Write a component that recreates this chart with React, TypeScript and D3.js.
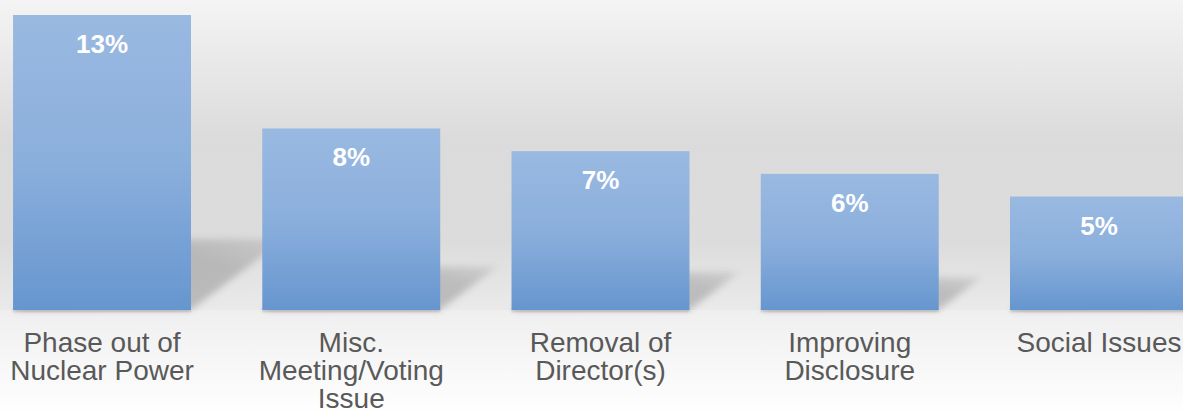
import React from 'react';
import * as d3 from 'd3';

const categoryLines: string[][] = [
  ['Phase out of', 'Nuclear Power'],
  ['Misc.', 'Meeting/Voting', 'Issue'],
  ['Removal of', 'Director(s)'],
  ['Improving', 'Disclosure'],
  ['Social Issues'],
];
const values: number[] = [13, 8, 7, 6, 5];
const valueLabels: string[] = ['13%', '8%', '7%', '6%', '5%'];

const W = 1183;
const H = 416;
const FLOOR = 310;

export default function App() {
  const x = d3
    .scaleBand<number>()
    .domain(values.map((_, i) => i))
    .range([-22.6, 1223.6])
    .paddingInner(0.286)
    .paddingOuter(0.143);
  const y = d3.scaleLinear().domain([0, 13]).range([FLOOR, 15]);
  const bw = x.bandwidth();

  return (
    <svg
      width={W}
      height={H}
      style={{ position: 'fixed', left: 0, top: 0, fontFamily: 'Arial, "Liberation Sans", sans-serif' }}
    >
      <defs>
        <linearGradient id="wall" x1="0" y1="0" x2="0" y2="1">
          <stop offset="0" stopColor="#f4f4f4" />
          <stop offset="0.45" stopColor="#dbdbdb" />
          <stop offset="0.78" stopColor="#dcdcdc" />
          <stop offset="1" stopColor="#eaeaea" />
        </linearGradient>
        <linearGradient id="floor" x1="0" y1="0" x2="0" y2="1">
          <stop offset="0" stopColor="#efefef" />
          <stop offset="1" stopColor="#ffffff" />
        </linearGradient>
        <linearGradient id="bar" x1="0" y1="0" x2="0" y2="1">
          <stop offset="0" stopColor="#99b9e1" />
          <stop offset="0.5" stopColor="#8bafdc" />
          <stop offset="1" stopColor="#6696cf" />
        </linearGradient>
        <linearGradient id="shade" x1="0" y1="1" x2="1" y2="0">
          <stop offset="0" stopColor="#000" stopOpacity={0.22} />
          <stop offset="0.7" stopColor="#000" stopOpacity={0.18} />
          <stop offset="1" stopColor="#000" stopOpacity={0.08} />
        </linearGradient>
        <filter id="blur" x="-50%" y="-50%" width="200%" height="200%">
          <feGaussianBlur stdDeviation="3.5" />
        </filter>
        <filter id="blur1" x="-10%" y="-50%" width="120%" height="200%">
          <feGaussianBlur stdDeviation="1" />
        </filter>
      </defs>
      <rect x={0} y={0} width={W} height={FLOOR} fill="url(#wall)" />
      <rect x={0} y={FLOOR} width={W} height={H - FLOOR} fill="url(#floor)" />

      {values.map((v, i) => {
        const x0 = x(i)!;
        const x1 = x0 + bw;
        const h = FLOOR - y(v);
        const hs = h * 0.24;
        const d = hs / 0.76;
        const pts = [
          [x0, FLOOR],
          [x1, FLOOR],
          [x1 + d, FLOOR - hs],
          [x0 + d, FLOOR - hs],
        ]
          .map((p) => p.join(','))
          .join(' ');
        return (
          <g key={'s' + i}>
            <polygon points={pts} fill="url(#shade)" filter="url(#blur)" />
            <rect x={x0} y={FLOOR - 1} width={bw} height={3} fill="#000" opacity={0.15} filter="url(#blur1)" />
          </g>
        );
      })}

      {values.map((v, i) => (
        <g key={'b' + i}>
          <rect x={x(i)} y={y(v)} width={bw} height={FLOOR - y(v)} fill="url(#bar)" />
          <text
            x={x(i)! + bw / 2}
            y={y(v) + 38}
            textAnchor="middle"
            fill="#ffffff"
            fontWeight="bold"
            fontSize={26}
          >
            {valueLabels[i]}
          </text>
        </g>
      ))}

      {categoryLines.map((lines, i) => (
        <text key={'c' + i} textAnchor="middle" fill="#595959" fontSize={28}>
          {lines.map((ln, j) => (
            <tspan key={j} x={x(i)! + bw / 2} y={352 + j * 28}>
              {ln}
            </tspan>
          ))}
        </text>
      ))}
    </svg>
  );
}
